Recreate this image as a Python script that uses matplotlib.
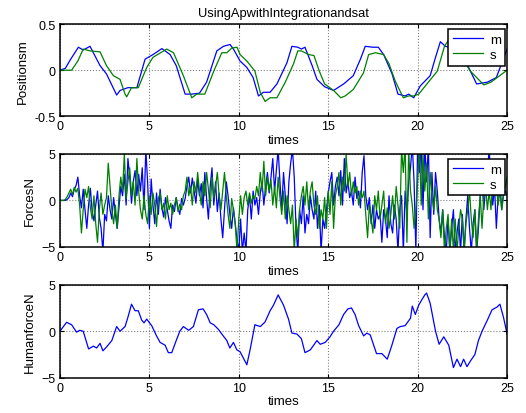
import numpy as np
import matplotlib.pyplot as plt

plt.rcParams.update({
    'font.family': ['Liberation Sans', 'DejaVu Sans'],
    'font.size': 8,
    'axes.linewidth': 1.1,
    'xtick.direction': 'in',
    'ytick.direction': 'in',
    'xtick.top': True,
    'ytick.right': True,
    'lines.linewidth': 0.9,
})

# position (m) of master and slave
t_pm = [0, 0.3, 0.6, 1.03, 1.3, 1.68, 2.24, 2.6, 3.17, 3.36, 3.8, 4.3, 4.76, 5.2, 5.7, 6.16,
        6.5, 7.0, 7.37, 7.8, 8.2, 8.77, 9.14, 9.51, 9.7, 10.07, 10.45, 10.8, 11.1, 11.38,
        11.75, 12.13, 12.69, 12.97, 13.3, 13.5, 13.7, 14.1, 14.37, 14.8, 15.3, 15.86, 16.4,
        16.8, 17.07, 17.5, 17.8, 18.1, 18.57, 18.9, 19.3, 19.5, 19.78, 20.15, 20.7, 21.0,
        21.27, 21.55, 22.0, 22.4, 22.8, 23.3, 23.9, 24.4, 25.0]
pos_m = [0, 0.02, 0.12, 0.25, 0.22, 0.26, 0.05, -0.04, -0.27, -0.22, -0.19, -0.19, 0.12,
         0.17, 0.235, 0.17, 0.05, -0.26, -0.26, -0.25, -0.13, 0.21, 0.26, 0.28, 0.23, 0.1,
         0.03, -0.08, -0.28, -0.24, -0.24, -0.15, 0.08, 0.26, 0.25, 0.23, 0.25, 0.05, -0.1,
         -0.18, -0.22, -0.15, -0.06, 0.12, 0.26, 0.25, 0.25, 0.17, -0.04, -0.26, -0.28,
         -0.26, -0.3, -0.17, -0.06, 0.14, 0.31, 0.26, 0.24, 0.15, 0.05, -0.15, -0.13, -0.08,
         0.23]

t_ps = [0, 0.65, 1.0, 1.3, 1.68, 2.24, 2.6, 2.99, 3.36, 3.64, 3.73, 4.0, 4.38, 4.85, 5.2,
        5.8, 5.97, 6.35, 6.9, 7.37, 7.65, 8.1, 8.6, 9.05, 9.33, 9.6, 9.9, 10.07, 10.45, 10.9,
        11.2, 11.47, 11.75, 12.13, 12.6, 13.06, 13.3, 13.5, 13.9, 14.2, 14.5, 14.8, 15.3,
        15.7, 15.95, 16.4, 16.97, 17.26, 17.64, 18.1, 18.4, 18.75, 19.2, 19.5, 19.78, 20.06,
        20.6, 21.1, 21.5, 21.7, 22.1, 22.5, 22.9, 23.7, 24.1, 25.0]
pos_s = [0, 0, 0.1, 0.23, 0.21, 0.2, 0.05, -0.06, -0.1, -0.26, -0.29, -0.19, -0.19, 0.03,
         0.14, 0.21, 0.23, 0.19, -0.06, -0.3, -0.26, -0.26, -0.01, 0.19, 0.19, 0.24, 0.25,
         0.17, 0.1, -0.01, -0.24, -0.34, -0.3, -0.3, -0.13, 0.07, 0.21, 0.21, 0.17, 0.16,
         -0.01, -0.15, -0.22, -0.3, -0.28, -0.21, -0.03, 0.17, 0.19, 0.17, 0.07, -0.12, -0.3,
         -0.28, -0.28, -0.26, -0.13, -0.01, 0.26, 0.32, 0.28, 0.15, 0.0, -0.16, -0.13, 0.0]

# forces (N), sampled every 0.1 s
t_f = np.arange(0, 25.05, 0.1)
force_m = [0, 0, 0, 0, 0.1, 0.3, 0.8, 0.4, 1.2, 1.6,
           2.5, 0.5, -0.8, 1.2, -1.0, -3.0, -0.5, 1.3, -1.2, -2.2,
           -0.5, 1.0, -1.8, -3.0, -5.5, -1.5, -2.2, 0.5, -1.0, -2.0,
           0.3, -1.5, -3.0, -0.8, 1.5, 0.5, 2.8, -0.5, 4.5, 2.5,
           -0.3, 2.0, 3.2, 0.5, 2.8, 1.0, 3.5, -1.0, 5.5, 2.0,
           -3.0, 2.3, -0.5, -2.5, 0.8, -1.5, 1.2, -0.8, -1.8, 0.3,
           -1.0, -2.2, -3.0, -0.5, -1.2, 0.3, -0.8, -1.5, 0.2, -0.5,
           0.2, 1.5, 2.5, 0.8, 2.4, 1.0, -0.3, 2.2, 0.5, 1.8,
           -0.8, 3.0, 0.2, -2.0, 1.5, 3.5, -0.5, 2.0, -1.2, 0.8,
           -2.0, -4.0, -1.0, 2.0, 0.5, -1.5, -3.0, -0.8, -2.5, -4.2,
           -5.5, -2.0, -5.5, -3.5, -5.5, -1.0, 0.5, -2.0, 1.0, -0.5,
           0.3, -1.5, 0.8, 2.0, -0.5, 1.5, 3.0, 0.8, 2.5, 4.5,
           1.0, 3.2, 5.5, 2.0, -1.0, 3.0, 0.5, -2.5, 2.0, 4.0,
           5.5, 2.5, -3.0, -5.5, -1.0, -2.5, 0.5, -3.5, -1.5, -2.5,
           0.5, -1.0, -2.0, 1.0, -3.0, -0.5, -5.5, -2.0, -3.0, -1.0,
           0.8, 2.0, 3.0, -0.5, 1.5, 2.5, 0.5, 3.2, -0.5, 4.5,
           0.8, 2.0, 0.3, 1.0, -0.5, 2.5, 0.2, 1.0, -0.8, 3.0,
           4.8, 0.5, -1.0, 0.3, -2.5, -0.5, -3.0, -1.0, -2.0, -1.5,
           -4.5, -1.0, -2.0, -4.0, 0.5, -2.5, -3.5, -0.5, -2.0, -5.5,
           -1.0, 0.5, -5.5, 1.0, -1.5, 2.0, 3.5, 6.0, 2.0, -5.5,
           6.0, 3.0, 6.0, -1.0, 6.0, 2.0, 6.0, -4.0, 3.0, -1.5,
           3.0, 1.0, -2.0, -3.5, -1.0, -4.0, -5.5, -2.0, -5.5, -3.0,
           -1.0, -5.5, -3.5, -2.0, -5.5, -1.5, -5.5, -2.0, 0.5, -3.0,
           -5.5, -2.5, -1.0, -5.5, -3.0, 0.5, 2.0, -1.0, 1.5, 3.0,
           5.5, 2.0, -0.5, 1.5, -3.0, 0.5, 2.0, -1.0, 0.8, 1.0,
           0.5]
force_s = [0, 0, 0, 0.1, 0.4, 0.8, 1.2, 0.6, 1.4, 0.9,
           1.3, -0.5, -3.5, -1.0, 1.2, 0.3, 1.5, -0.8, -2.0, 0.5,
           -2.5, -4.5, -1.0, 0.8, -1.5, -0.5, 0.3, 4.0, 1.5, -1.0,
           -2.5, -0.5, -3.0, 0.5, 2.5, 1.0, 5.0, 0.2, 2.0, 3.5,
           0.5, 2.0, -0.5, 4.5, 1.0, -1.0, -2.0, 0.5, -1.5, -2.5,
           0.5, -1.5, 0.8, -0.5, -2.8, 0.2, 0.8, -1.0, -0.3, -2.0,
           0.5, -1.0, -0.3, -1.5, -0.5, 0.3, -1.2, -0.4, -1.0, 0.5,
           1.0, 2.5, 0.5, 1.5, -0.5, 2.0, 0.8, 3.0, 1.0, -0.5,
           2.0, 0.5, 3.0, 1.2, -0.8, 2.5, 0.3, 1.5, 3.0, 0.5,
           -1.0, 1.0, 3.0, 0.5, -1.5, -3.0, 0.2, -1.0, -2.5, -5.5,
           -2.0, 0.5, -1.5, 0.3, 1.0, -0.5, 0.8, -0.3, 0.5, 0.2,
           1.5, 0.5, 3.0, 1.0, 4.2, 0.5, 2.5, 1.0, 2.2, -0.5,
           1.5, -0.8, 2.5, 0.3, -1.5, 1.0, -2.0, 0.5, -1.0, -2.5,
           -0.5, -5.5, -2.0, -4.0, -1.0, 0.5, 1.5, -0.5, 2.0, -1.0,
           1.0, 2.0, -0.5, -1.5, 0.5, -3.0, -1.0, -2.0, 0.3, -3.0,
           1.0, -1.5, 2.0, -3.0, 0.5, 1.5, 3.0, -0.5, 2.5, 1.0,
           5.0, 1.5, 3.0, 0.5, 2.0, 0.8, 1.5, -0.5, 1.0, 0.3,
           1.0, -1.5, -4.0, -0.5, -2.0, -3.5, 0.5, -1.0, 1.0, -2.0,
           -0.5, 1.0, -2.5, -0.8, -3.0, -1.5, 0.5, -2.0, 1.5, -0.5,
           -3.0, 5.5, 3.0, 6.0, -4.5, 5.5, 1.0, -0.5, -3.0, -1.0,
           2.0, 6.0, -0.5, 5.0, 1.0, 4.0, -2.0, 3.0, 0.5, -1.0,
           1.5, -1.0, -2.0, -4.0, -1.0, -5.5, -3.0, -1.5, -5.5, -2.0,
           -5.5, -2.0, -5.5, -3.0, -1.0, -2.0, -5.5, -2.5, -1.0, 1.0,
           -2.0, -4.0, -1.0, -5.5, -2.0, 0.5, -3.0, 0.5, 1.5, -1.0,
           1.0, -1.0, 2.0, 0.5, 1.5, -0.5, 1.0, -1.0, 0.5, 1.5,
           2.5]

# human force (N)
t_h = [0, 0.37, 0.65, 0.93, 1.1, 1.3, 1.6, 1.87, 2.05, 2.24, 2.4, 2.6, 2.9, 3.17, 3.36,
       3.64, 3.8, 4.0, 4.2, 4.38, 4.57, 4.7, 4.85, 5.13, 5.4, 5.6, 5.88, 6.06, 6.25, 6.5,
       6.7, 6.9, 7.2, 7.46, 7.74, 8.0, 8.2, 8.4, 8.6, 8.86, 9.05, 9.33, 9.5, 9.7, 9.89,
       10.07, 10.26, 10.45, 10.63, 10.9, 11.2, 11.47, 11.75, 11.94, 12.2, 12.5, 12.78,
       12.97, 13.25, 13.5, 13.7, 14.0, 14.37, 14.55, 14.83, 15.1, 15.3, 15.6, 15.86, 16.1,
       16.3, 16.5, 16.7, 16.98, 17.16, 17.35, 17.7, 18.0, 18.3, 18.56, 18.84, 19.03, 19.3,
       19.6, 19.7, 19.87, 20.06, 20.24, 20.4, 20.5, 20.7, 21.0, 21.2, 21.46, 21.74, 22.0,
       22.2, 22.4, 22.57, 22.76, 22.95, 23.2, 23.4, 23.6, 23.9, 24.16, 24.44, 24.6, 24.8,
       25.0]
human_f = [0, 0.96, 0.7, -0.1, 0.1, 0, -1.9, -1.6, -1.8, -1.3, -2.1, -1.7, -1.0, 0.5, 0.0,
           0.5, 1.5, 2.9, 2.2, 2.2, 1.2, 0.9, 1.3, 0.6, -0.5, -1.2, -1.5, -2.3, -2.3, -1.0,
           0.0, 0.5, 0.1, 0.5, 2.3, 2.4, 1.8, 0.9, 0.7, 0.2, -0.3, -1.0, -1.8, -1.2, -2.0,
           -2.2, -2.9, -3.6, -2.0, 0.7, 0.5, 1.0, 2.2, 2.8, 3.9, 2.8, 1.3, -0.2, -0.3, -0.8,
           -2.3, -2.0, -1.0, -1.4, -1.2, -0.6, 0.0, 0.7, 1.8, 2.4, 2.5, 1.8, 0.6, -0.5, -0.2,
           -0.4, -2.4, -2.4, -3.0, -1.5, 0.3, 0.5, 0.6, 1.4, 2.7, 1.8, 2.8, 3.4, 3.9, 4.1,
           3.0, 0.0, -1.4, -0.6, -1.5, -3.9, -3.0, -3.8, -3.0, -3.8, -3.2, -2.5, -1.0, 0.0,
           1.2, 2.3, 2.6, 2.9, 1.5, -0.3]

blue = (0, 0, 1)
green = (0, 0.5, 0)

fig = plt.figure(figsize=(5.26, 4.14), dpi=100)
ax1 = fig.add_axes([0.114, 0.717, 0.85, 0.222])
ax2 = fig.add_axes([0.114, 0.401, 0.85, 0.225])
ax3 = fig.add_axes([0.114, 0.085, 0.85, 0.225])


def style(ax, ylim, yticks, ylabel):
    ax.set_xlim(0, 25)
    ax.set_ylim(*ylim)
    ax.set_xticks([0, 5, 10, 15, 20, 25])
    ax.set_yticks(yticks)
    ax.grid(True, linestyle=':', color='gray', linewidth=0.8)
    ax.set_xlabel('times', fontsize=9.5, labelpad=1)
    ax.set_ylabel(ylabel, fontsize=9.5, labelpad=4)
    ax.tick_params(length=3, pad=3, labelsize=9)


def legend(ax):
    leg = ax.legend(loc='upper right', bbox_to_anchor=(0.996, 0.946), fancybox=False,
                    framealpha=1, edgecolor='black', fontsize=9.5, handlelength=2.3,
                    borderaxespad=0, borderpad=0.35, labelspacing=0.2, handletextpad=0.5)
    leg.get_frame().set_linewidth(1.1)


ax1.plot(t_pm, pos_m, color=blue, label='m')
ax1.plot(t_ps, pos_s, color=green, label='s')
style(ax1, (-0.5, 0.5), [-0.5, 0, 0.5], 'Positionsm')
ax1.set_yticklabels(['-0.5', '0', '0.5'])
ax1.set_title('UsingApwithIntegrationandsat', fontsize=9.3, pad=6)
legend(ax1)

ax2.plot(t_f, force_m, color=blue, label='m')
ax2.plot(t_f, force_s, color=green, label='s')
style(ax2, (-5, 5), [-5, 0, 5], 'ForcesN')
legend(ax2)

ax3.plot(t_h, human_f, color=blue)
style(ax3, (-5, 5), [-5, 0, 5], 'HumanforceN')

fig.savefig('out.png', dpi=100)
